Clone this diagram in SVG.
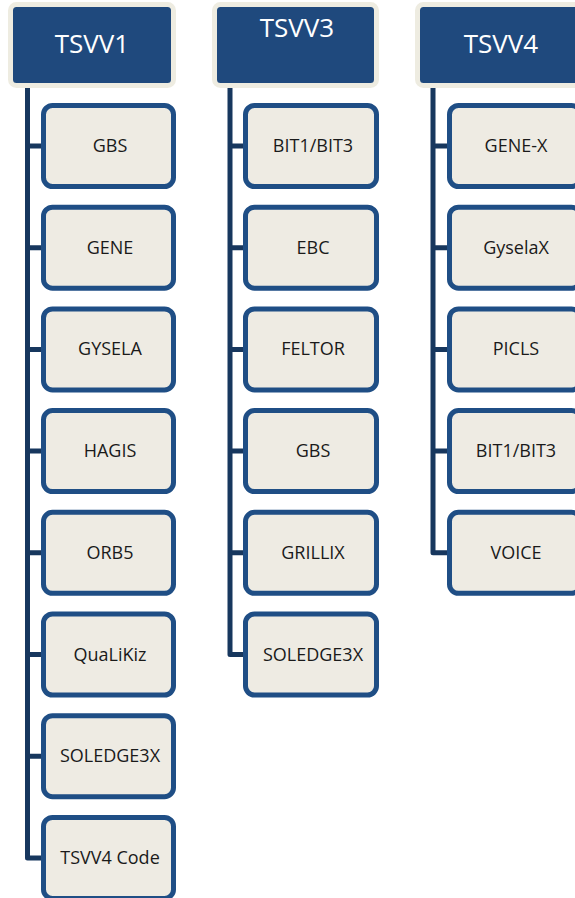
<svg xmlns="http://www.w3.org/2000/svg" width="575" height="898" viewBox="0 0 575 898">
<style>
.hdr{fill:#1F497D;stroke:#EEECE1;stroke-width:5}
.ht{font-family:"Open Sans","Noto Sans",sans-serif;font-size:26px;fill:#FFFFFF;text-anchor:middle}
.box{fill:#EEEBE3;stroke:#1F4E85;stroke-width:5}
.bt{font-family:"Open Sans","Noto Sans",sans-serif;font-size:18px;fill:#1A1A1A;text-anchor:middle}
.con{fill:none;stroke:#17375E;stroke-width:5;stroke-linejoin:round}
</style>
<rect width="575" height="898" fill="#FFFFFF"/>
<g id="connectors">
<path class="con" d="M27.5 85 V857.9 H43 M27.5 146 H43 M27.5 247.7 H43 M27.5 349.4 H43 M27.5 451.1 H43 M27.5 552.8 H43 M27.5 654.5 H43 M27.5 756.2 H43"/>
<path class="con" d="M230 85 V654.5 H245 M230 146 H245 M230 247.7 H245 M230 349.4 H245 M230 451.1 H245 M230 552.8 H245"/>
<path class="con" d="M433 85 V552.8 H449 M433 146 H449 M433 247.7 H449 M433 349.4 H449 M433 451.1 H449"/>
</g>
<g id="tsvv1"><rect class="hdr" x="10.5" y="4.5" width="163" height="81" rx="6"/><text class="ht" x="92" y="53">TSVV1</text></g>
<g id="tsvv3"><rect class="hdr" x="214.5" y="4.5" width="162" height="81" rx="6"/><text class="ht" x="297" y="37">TSVV3</text></g>
<g id="tsvv4"><rect class="hdr" x="417.5" y="4.5" width="168" height="81" rx="6"/><text class="ht" x="501" y="53">TSVV4</text></g>

<g id="c1-gbs"><rect class="box" x="43.5" y="105.5" width="130" height="81" rx="9"/><text class="bt" x="110" y="152">GBS</text></g>
<g id="c1-gene"><rect class="box" x="43.5" y="207.2" width="130" height="81" rx="9"/><text class="bt" x="110" y="253.7">GENE</text></g>
<g id="c1-gysela"><rect class="box" x="43.5" y="308.9" width="130" height="81" rx="9"/><text class="bt" x="110" y="355.4">GYSELA</text></g>
<g id="c1-hagis"><rect class="box" x="43.5" y="410.6" width="130" height="81" rx="9"/><text class="bt" x="110" y="457.1">HAGIS</text></g>
<g id="c1-orb5"><rect class="box" x="43.5" y="512.3" width="130" height="81" rx="9"/><text class="bt" x="110" y="558.8">ORB5</text></g>
<g id="c1-qualikiz"><rect class="box" x="43.5" y="614" width="130" height="81" rx="9"/><text class="bt" x="110" y="660.5">QuaLiKiz</text></g>
<g id="c1-soledge3x"><rect class="box" x="43.5" y="715.7" width="130" height="81" rx="9"/><text class="bt" x="110" y="762.2">SOLEDGE3X</text></g>
<g id="c1-tsvv4code"><rect class="box" x="43.5" y="817.4" width="130" height="81" rx="9"/><text class="bt" x="110" y="863.9">TSVV4 Code</text></g>

<g id="c3-bit"><rect class="box" x="245.5" y="105.5" width="131" height="81" rx="9"/><text class="bt" x="313" y="152">BIT1/BIT3</text></g>
<g id="c3-ebc"><rect class="box" x="245.5" y="207.2" width="131" height="81" rx="9"/><text class="bt" x="313" y="253.7">EBC</text></g>
<g id="c3-feltor"><rect class="box" x="245.5" y="308.9" width="131" height="81" rx="9"/><text class="bt" x="313" y="355.4">FELTOR</text></g>
<g id="c3-gbs"><rect class="box" x="245.5" y="410.6" width="131" height="81" rx="9"/><text class="bt" x="313" y="457.1">GBS</text></g>
<g id="c3-grillix"><rect class="box" x="245.5" y="512.3" width="131" height="81" rx="9"/><text class="bt" x="313" y="558.8">GRILLIX</text></g>
<g id="c3-soledge3x"><rect class="box" x="245.5" y="614" width="131" height="81" rx="9"/><text class="bt" x="313" y="660.5">SOLEDGE3X</text></g>

<g id="c4-genex"><rect class="box" x="449.5" y="105.5" width="131" height="81" rx="9"/><text class="bt" x="516" y="152">GENE-X</text></g>
<g id="c4-gyselax"><rect class="box" x="449.5" y="207.2" width="131" height="81" rx="9"/><text class="bt" x="516" y="253.7">GyselaX</text></g>
<g id="c4-picls"><rect class="box" x="449.5" y="308.9" width="131" height="81" rx="9"/><text class="bt" x="516" y="355.4">PICLS</text></g>
<g id="c4-bit"><rect class="box" x="449.5" y="410.6" width="131" height="81" rx="9"/><text class="bt" x="516" y="457.1">BIT1/BIT3</text></g>
<g id="c4-voice"><rect class="box" x="449.5" y="512.3" width="131" height="81" rx="9"/><text class="bt" x="516" y="558.8">VOICE</text></g>
</svg>
